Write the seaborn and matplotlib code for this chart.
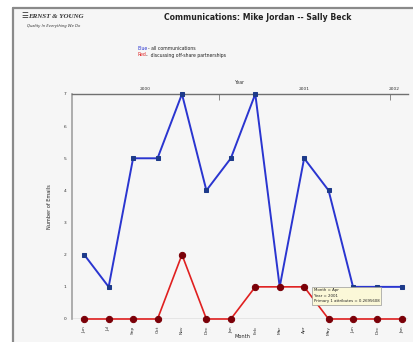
import matplotlib
matplotlib.use("Agg")
import matplotlib.pyplot as plt
import seaborn as sns
import pandas as pd
import numpy as np
from matplotlib.lines import Line2D
from matplotlib.patches import Rectangle

months = ["Jun", "Jul", "Sep", "Oct", "Nov", "Dec", "Jan", "Feb",
          "Mar", "Apr", "May", "Jun", "Dec", "Jan"]
all_comms = [2, 1, 5, 5, 7, 4, 5, 7, 1, 5, 4, 1, 1, 1]
offshore = [0, 0, 0, 0, 2, 0, 0, 1, 1, 1, 0, 0, 0, 0]
years = ["2000", "2001", "2002"]

df = pd.DataFrame({"idx": np.arange(len(months)), "month": months,
                   "all": all_comms, "offshore": offshore})

sns.set_style("white")
plt.rcParams["font.family"] = ["DejaVu Sans"]

fig = plt.figure(figsize=(4.13, 3.42), dpi=100)
fig.patch.set_facecolor("white")

# window panel behind the chart
panel = Rectangle((13 / 413, 0), 1 - 13 / 413, 1 - 8 / 342, transform=fig.transFigure,
                  facecolor="#f6f6f6", edgecolor="none", zorder=-10)
fig.patches.append(panel)
fig.add_artist(Line2D([13 / 413, 13 / 413], [0, 1 - 8 / 342], transform=fig.transFigure,
                      color="#8a8a8a", lw=1.6))
fig.add_artist(Line2D([13 / 413, 1], [1 - 8 / 342, 1 - 8 / 342], transform=fig.transFigure,
                      color="#8a8a8a", lw=1.6))

ax = fig.add_axes([72 / 413, 1 - 319 / 342, (408 - 72) / 413, (319 - 94) / 342])
ax.set_facecolor("#f6f6f6")

sns.lineplot(data=df, x="idx", y="all", ax=ax, color="#2a35d0", lw=1.4,
             marker="s", markersize=3.0, markerfacecolor="#1d3a8a",
             markeredgecolor="#1d3a8a", clip_on=False, zorder=3)
sns.lineplot(data=df, x="idx", y="offshore", ax=ax, color="#e02020", lw=1.2,
             marker="o", markersize=4.5, markerfacecolor="#7a0008",
             markeredgecolor="#7a0008", clip_on=False, zorder=4)

ax.set_xlim(-0.5, 13.25)
ax.set_ylim(0, 7)
for s in ["right", "bottom"]:
    ax.spines[s].set_visible(False)
ax.spines["top"].set_color("#707070")
ax.spines["top"].set_linewidth(1.0)
ax.spines["left"].set_color("#a0a0a0")
ax.spines["left"].set_linewidth(1.2)
ax.axhline(0, color="#a0a0a0", lw=1.0, zorder=1)

ax.set_yticks(range(0, 8))
ax.set_yticklabels([str(v) for v in range(0, 8)], fontsize=3.2, color="#333333")
ax.tick_params(axis="y", length=3, width=0.6, color="#999999", pad=1)

ax.set_xticks(df["idx"])
ax.set_xticklabels(months, rotation=90, fontsize=3.2, color="#333333")
ax.set_xticks(df["idx"][:-1] + 0.5, minor=True)
ax.tick_params(axis="x", which="both", length=3, width=0.6, color="#999999",
               pad=2, direction="out")
ax.set_xlabel("")
ax.set_ylabel("Number of Emails", fontsize=3.6, labelpad=8, color="#222222")
ax.grid(False)
fig.text(242 / 413, 1 - 337 / 342, "Month", fontsize=3.6, color="#222222",
         ha="center", va="center")

# year axis on top
top = ax.secondary_xaxis("top")
top.set_xticks([2.5, 9.0, 12.7])
top.set_xticklabels(years, fontsize=3.2, color="#333333")
top.tick_params(length=0, pad=2)
top.set_xticks([5.5, 12.5], minor=True)
top.tick_params(which="minor", length=4, width=0.6, color="#777777", direction="in")
top.spines["top"].set_visible(False)
top.set_xlabel("Year", fontsize=3.4, labelpad=2, color="#333333")

# header: logo mark, firm name and tagline
fig.text(21 / 413, 1 - 16 / 342, "\u2630", fontsize=5.5, color="#333333",
         family=["DejaVu Sans"], va="center", fontweight="bold")
fig.text(28 / 413, 1 - 16 / 342, "ERNST & YOUNG", fontsize=5.0, style="italic",
         fontweight="bold", color="#333333", family=["Liberation Serif", "DejaVu Sans"],
         va="center")
fig.text(27 / 413, 1 - 26.5 / 342, "Quality In Everything We Do", fontsize=2.7,
         style="italic", color="#333333", va="center")
fig.text(258 / 413, 1 - 17 / 342, "Communications: Mike Jordan -- Sally Beck",
         fontsize=5.6, fontweight="bold", color="#222222", ha="center", va="center")

fig.text(137 / 413, 1 - 48 / 342, "Blue", fontsize=3.3, color="#2a35d0", va="center")
fig.text(147.5 / 413, 1 - 48 / 342, "- all communications", fontsize=3.3,
         color="#222222", va="center")
fig.text(137 / 413, 1 - 55 / 342, "Red", fontsize=3.3, color="#e02020", va="center")
fig.text(146.5 / 413, 1 - 55 / 342, "-  discussing off-share partnerships", fontsize=3.3,
         color="#222222", va="center")

# hover tooltip for the April 2001 point
ax.annotate("Month = Apr\nYear = 2001\nPrimary 1 attributes = 0.2695608",
            xy=(9.4, 0.72), fontsize=2.8, color="#222222", va="center", ha="left",
            linespacing=1.5,
            bbox=dict(boxstyle="square,pad=0.4", facecolor="#fbf8d8",
                      edgecolor="#999999", lw=0.5), zorder=6)

fig.savefig("out.png", dpi=100, facecolor=fig.get_facecolor())
